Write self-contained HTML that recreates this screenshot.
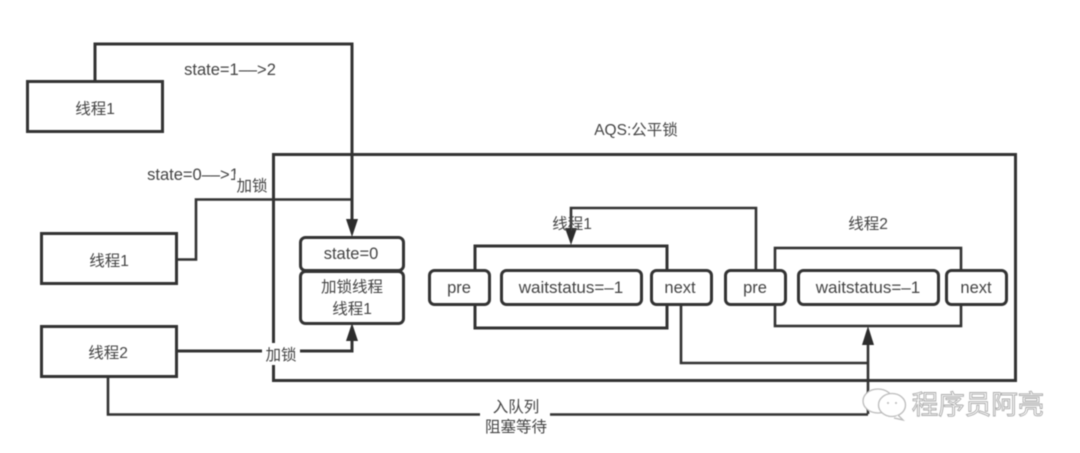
<!DOCTYPE html>
<html>
<head>
<meta charset="utf-8">
<style>
html,body{margin:0;padding:0;background:#fff;width:1080px;height:453px;overflow:hidden}
svg{display:block}
text{font-family:"Liberation Sans","Noto Sans CJK SC",sans-serif;font-size:15.5px;fill:#444;text-anchor:middle}
text.e{font-size:16.5px}
text.w{font-size:17px}
.l{fill:none;stroke:#333;stroke-width:3}
.t{fill:none;stroke:#333;stroke-width:2.6}
.b{fill:#fff;stroke:#333;stroke-width:3}
.a{fill:#2d2d2d;stroke:none}
</style>
</head>
<body>
<svg width="1080" height="453" viewBox="0 0 1080 453" xmlns="http://www.w3.org/2000/svg">
<g style="filter:blur(0.5px)">
<!-- AQS container -->
<rect class="l" x="273.5" y="154.5" width="742" height="226"/>

<!-- connectors -->
<path class="l" d="M95 81V44H352V220"/>
<path class="t" d="M176 259.5H196V199.5H352"/>
<polygon class="a" points="346,219 358,219 352,237"/>
<path class="l" d="M176 351H352V340"/>
<polygon class="a" points="346,341 358,341 352,323"/>
<path class="t" d="M108 377V414.5H868"/>
<path class="t" d="M868 414V343"/>
<path class="l" d="M868 344V342"/>
<polygon class="a" points="862,345 874,345 868,326"/>
<path class="t" d="M681 305V363H868"/>

<!-- thread boxes -->
<rect class="b" x="27.5" y="81.5" width="135" height="50"/>
<rect class="b" x="41.5" y="233.5" width="135" height="50"/>
<rect class="b" x="41.5" y="326.5" width="135" height="50"/>

<!-- state boxes -->
<rect class="b" x="300.5" y="237.5" width="103" height="33" rx="5"/>
<rect class="b" x="300.5" y="271.5" width="103" height="52" rx="5"/>

<!-- node 1 -->
<rect class="l" x="475" y="246" width="192" height="82"/>
<path class="t" d="M571 229V208H756V270"/>
<polygon class="a" points="565,228 577,228 571,245"/>
<rect class="b" x="429.5" y="270.5" width="60" height="34" rx="5"/>
<rect class="b" x="501.5" y="270.5" width="140" height="34" rx="5"/>
<rect class="b" x="651.5" y="270.5" width="60" height="34" rx="5"/>

<!-- node 2 -->
<rect class="t" x="775" y="248" width="186" height="78"/>
<rect class="b" x="725.5" y="270.5" width="60" height="34" rx="5"/>
<rect class="b" x="798.5" y="270.5" width="140" height="34" rx="5"/>
<rect class="b" x="946.5" y="270.5" width="60" height="34" rx="5"/>

<!-- label backgrounds -->
<rect x="262" y="343" width="38" height="22" fill="#fff"/>
<rect x="480" y="398" width="70" height="36" fill="#fff"/>

<!-- labels -->
<text x="95" y="114">线程1</text>
<text x="109" y="266">线程1</text>
<text x="108" y="358">线程2</text>
<text class="e" x="230" y="75">state=1––&gt;2</text>
<text class="e" x="193" y="180">state=0––&gt;1</text>
<rect x="235" y="174" width="36" height="22" fill="#fff"/>
<text x="252" y="191">加锁</text>
<text x="281" y="360">加锁</text>
<text x="636" y="135">AQS:公平锁</text>
<text class="e" x="351" y="259">state=0</text>
<text x="352" y="292">加锁线程</text>
<text x="352" y="314">线程1</text>
<text x="572" y="229">线程1</text>
<text x="868" y="229">线程2</text>
<text class="e" x="459" y="293">pre</text>
<text class="w" x="571" y="293">waitstatus=–1</text>
<text class="e" x="680" y="293">next</text>
<text class="e" x="755" y="293">pre</text>
<text class="w" x="868" y="293">waitstatus=–1</text>
<text class="e" x="976" y="293">next</text>
<text x="516" y="412">入队列</text>
<text x="516" y="432">阻塞等待</text>
</g>

<!-- watermark -->
<g style="filter:blur(0.4px)">
<g fill="#fff" stroke="#bbb" stroke-width="1.3">
<ellipse cx="878" cy="401" rx="15" ry="12"/>
<ellipse cx="892" cy="405" rx="13.5" ry="11.5"/>
<path d="M898 415l5 5-9-2"/>
</g>
<circle cx="888" cy="403" r="1" fill="#bbb"/>
<circle cx="896" cy="403" r="1" fill="#bbb"/>
<text x="978" y="414" style="font-size:26.5px;fill:#fff;stroke:#aaa;stroke-width:0.9px">程序员阿亮</text>
</g>
</svg>
</body>
</html>
